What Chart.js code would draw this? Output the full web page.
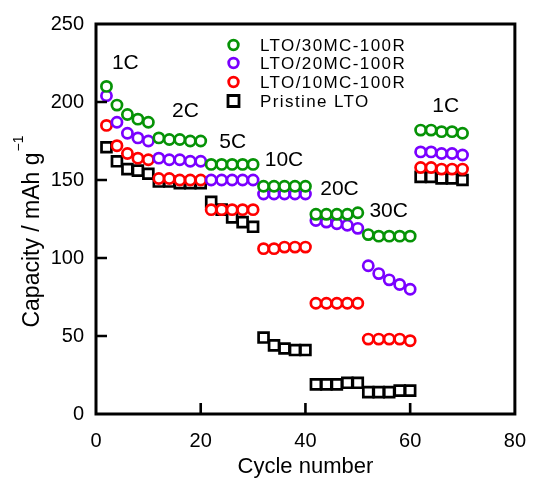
<!DOCTYPE html>
<html>
<head>
<meta charset="utf-8">
<script src="https://cdn.jsdelivr.net/npm/chart.js@4.4.1/dist/chart.umd.min.js"></script>
<style>
    html, body { margin: 0; padding: 0; background: #fff; }
    #wrap { width: 541px; height: 480px; }
</style>
</head>
<body>
<div id="wrap"><canvas id="rateChart" width="541" height="480"></canvas></div>
<script>
const cycles = [2, 4, 6, 8, 10, 12, 14, 16, 18, 20, 22, 24, 26, 28, 30, 32, 34, 36, 38, 40,
    42, 44, 46, 48, 50, 52, 54, 56, 58, 60, 62, 64, 66, 68, 70];

const lto30mc = [210, 198, 192, 189, 187, 177, 176, 176, 175, 175, 160, 160, 160, 160, 160,
    146, 146, 146, 146, 146, 128, 128, 128, 128, 129, 115, 114, 114, 114, 114, 182, 182, 181, 181, 180];
const lto20mc = [204, 187, 180, 177, 175, 164, 163, 163, 162, 162, 150, 150, 150, 150, 150,
    141, 141, 141, 141, 141, 124, 123, 122, 121, 119, 95, 90, 86, 83, 80, 168, 168, 167, 167, 166];
const lto10mc = [185, 172, 167, 164, 163, 151, 151, 150, 150, 150, 131, 131, 131, 131, 131,
    106, 106, 107, 107, 107, 71, 71, 71, 71, 71, 48, 48, 48, 48, 47, 158, 158, 157, 157, 157];
const pristine = [171, 162, 157, 156, 154, 149, 149, 148, 148, 148, 136, 131, 126, 123, 120,
    49, 44, 42, 41, 41, 19, 19, 19, 20, 20, 14, 14, 14, 15, 15, 152, 152, 151, 151, 150];

const seriesLabels = ['LTO/30MC-100R', 'LTO/20MC-100R', 'LTO/10MC-100R', 'Pristine LTO'];
const xTicks = [0, 20, 40, 60, 80];
const yTicks = [0, 50, 100, 150, 200, 250];

// rate labels, placed in data units
const rateNames = ['1C', '2C', '5C', '10C', '20C', '30C', '1C'];
const rateX = [5.6, 17.1, 26.1, 35.9, 46.5, 55.9, 66.8];
const rateY = [225, 194, 174, 163, 144, 130, 197];

const FONT = '"Liberation Sans", Arial, "DejaVu Sans", sans-serif';

function toPoints(values) {
    return values.map(function (v, i) { return { x: cycles[i], y: v }; });
}

const colors = ['#069306', '#7a00ff', '#ff0000', '#000000'];
const allValues = [lto30mc, lto20mc, lto10mc, pristine];

const datasets = allValues.map(function (vals, i) {
    const isSquare = i === 3;
    return {
        label: seriesLabels[i],
        data: toPoints(vals),
        showLine: false,
        pointStyle: isSquare ? 'rect' : 'circle',
        pointRadius: isSquare ? 7 : 5.1,
        pointHoverRadius: isSquare ? 7 : 5.1,
        pointBorderWidth: 2.7,
        borderColor: colors[i],
        backgroundColor: '#ffffff',
        pointBackgroundColor: '#ffffff',
        pointBorderColor: colors[i]
    };
});

const framePlugin = {
    id: 'frame',
    afterDraw: function (chart) {
        const ctx = chart.ctx;
        const a = chart.chartArea;
        const xs = chart.scales.x;
        const ys = chart.scales.y;
        ctx.save();
        ctx.strokeStyle = '#000';
        ctx.lineWidth = 3;
        ctx.strokeRect(a.left, a.top, a.right - a.left, a.bottom - a.top);

        ctx.lineWidth = 2.6;
        ctx.beginPath();
        xTicks.slice(1, -1).forEach(function (v) {
            const px = xs.getPixelForValue(v);
            ctx.moveTo(px, a.bottom);
            ctx.lineTo(px, a.bottom - 11);
        });
        yTicks.slice(1, -1).forEach(function (v) {
            const py = ys.getPixelForValue(v);
            ctx.moveTo(a.left, py);
            ctx.lineTo(a.left + 11, py);
        });
        ctx.stroke();

        // rate annotations
        ctx.fillStyle = '#000';
        ctx.font = '21px ' + FONT;
        ctx.textAlign = 'center';
        ctx.textBaseline = 'middle';
        rateNames.forEach(function (name, i) {
            ctx.fillText(name, xs.getPixelForValue(rateX[i]), ys.getPixelForValue(rateY[i]));
        });

        // legend inside the plot
        const rows = [45, 63, 82, 101];
        chart.data.datasets.forEach(function (ds, i) {
            const y = rows[i];
            ctx.lineWidth = 2.8;
            ctx.strokeStyle = ds.pointBorderColor;
            ctx.beginPath();
            if (ds.pointStyle === 'rect') {
                ctx.rect(228, y - 5.5, 11, 11);
            } else {
                ctx.arc(233.5, y, 4.8, 0, Math.PI * 2);
            }
            ctx.stroke();
            ctx.fillStyle = '#000';
            ctx.font = '17px ' + FONT;
            ctx.textAlign = 'left';
            ctx.letterSpacing = '1.4px';
            ctx.fillText(ds.label, 260, y + 1);
            ctx.letterSpacing = '0px';
        });

        // y axis title with superscript
        ctx.save();
        ctx.translate(33, 240);
        ctx.rotate(-Math.PI / 2);
        ctx.font = '23px ' + FONT;
        ctx.textAlign = 'center';
        ctx.textBaseline = 'middle';
        const main = 'Capacity / mAh g';
        const w = ctx.measureText(main).width;
        ctx.fillText(main, 0, 0);
        ctx.font = '14px ' + FONT;
        ctx.textAlign = 'left';
        ctx.fillText('\u22121', w / 2 + 1, -14);
        ctx.restore();

        ctx.restore();
    }
};

new Chart(document.getElementById('rateChart'), {
    type: 'scatter',
    data: { datasets: datasets },
    options: {
        responsive: false,
        animation: false,
        devicePixelRatio: 1,
        layout: { padding: { top: 20, right: 14, left: 0, bottom: 0 } },
        plugins: {
            legend: { display: false },
            tooltip: { enabled: false }
        },
        scales: {
            x: {
                type: 'linear',
                min: 0,
                max: 80,
                afterFit: function (scale) { scale.height = 66; },
                afterBuildTicks: function (scale) {
                    scale.ticks = xTicks.map(function (v) { return { value: v }; });
                },
                grid: { display: false, drawTicks: false },
                border: { display: false },
                ticks: {
                    color: '#000',
                    padding: 15,
                    font: { family: FONT, size: 20 }
                },
                title: {
                    display: true,
                    text: 'Cycle number',
                    color: '#000',
                    font: { family: FONT, size: 22 },
                    padding: { top: 1, bottom: 0 }
                }
            },
            y: {
                type: 'linear',
                min: 0,
                max: 250,
                afterFit: function (scale) { scale.width = 96; },
                afterBuildTicks: function (scale) {
                    scale.ticks = yTicks.map(function (v) { return { value: v }; });
                },
                grid: { display: false, drawTicks: false },
                border: { display: false },
                ticks: {
                    color: '#000',
                    padding: 12,
                    font: { family: FONT, size: 20 }
                }
            }
        }
    },
    plugins: [framePlugin]
});
</script>
</body>
</html>
